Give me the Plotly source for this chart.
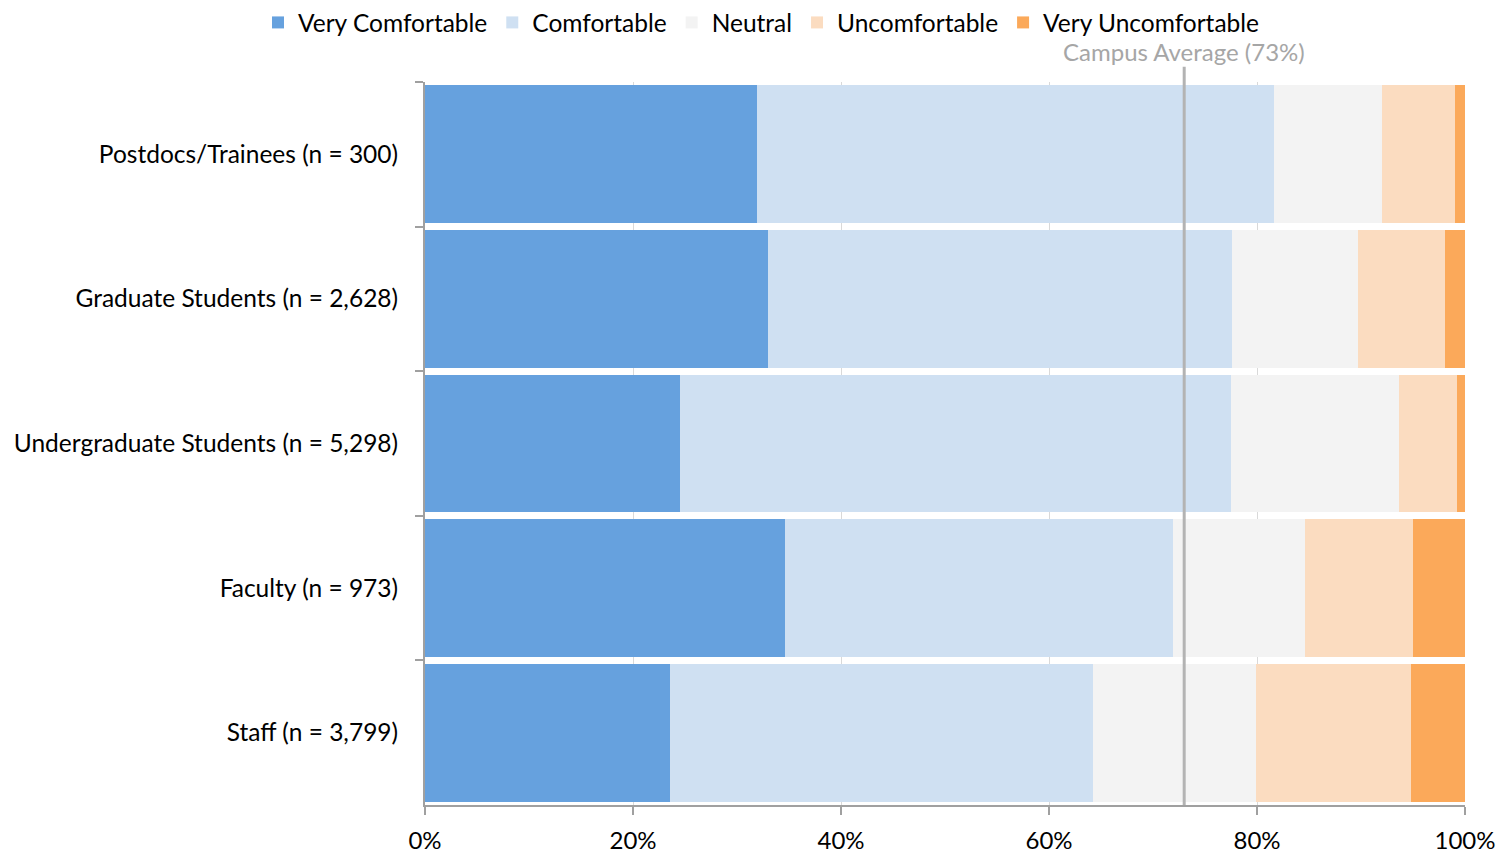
import plotly.graph_objects as go

# Respondent groups, top to bottom
groups = [
    "Postdocs/Trainees (n = 300)",
    "Graduate Students (n = 2,628)",
    "Undergraduate Students (n = 5,298)",
    "Faculty (n = 973)",
    "Staff (n = 3,799)",
]

# Share of respondents (%) per comfort level
very_comfortable = [31.9, 33.0, 24.5, 34.6, 23.6]
comfortable = [49.7, 44.6, 53.0, 37.3, 40.6]
neutral = [10.4, 12.1, 16.2, 12.7, 15.7]
uncomfortable = [7.0, 8.4, 5.5, 10.4, 14.9]
very_uncomfortable = [1.0, 1.9, 0.8, 5.0, 5.2]

campus_average = 73

series = [
    ("Very Comfortable", very_comfortable, "#66a1de"),
    ("Comfortable", comfortable, "#cfe0f2"),
    ("Neutral", neutral, "#f3f3f3"),
    ("Uncomfortable", uncomfortable, "#fbdcc0"),
    ("Very Uncomfortable", very_uncomfortable, "#fba95a"),
]

FONT = "Lato, 'Open Sans', sans-serif"

fig = go.Figure()
for name, vals, color in series:
    fig.add_trace(go.Bar(
        name=name, x=vals, y=groups, orientation="h",
        marker=dict(color=color, line=dict(width=0)),
        hoverinfo="x+y+name",
    ))

# Campus average reference line and label
fig.add_shape(
    type="line", xref="x", yref="paper",
    x0=campus_average, x1=campus_average, y0=0, y1=1.021,
    line=dict(color="#b3b3b3", width=3), layer="above",
)
fig.add_annotation(
    x=campus_average, xref="x", y=1.0415, yref="paper",
    text=f"Campus Average ({campus_average}%)", showarrow=False,
    font=dict(family=FONT, size=24, color="#a6a6a6"),
    xanchor="center", yanchor="middle",
)

fig.update_layout(
    barmode="stack",
    bargap=0.048,
    width=1502, height=854,
    margin=dict(l=425, r=37, t=82, b=49, autoexpand=False),
    paper_bgcolor="white", plot_bgcolor="white",
    font=dict(family=FONT, size=24, color="#000000"),
    legend=dict(
        orientation="h", x=0.507, xref="container", xanchor="center",
        y=1.0, yref="container", yanchor="top",
        font=dict(family=FONT, size=24.5, color="#000000"),
        itemwidth=30, traceorder="normal",
    ),
    xaxis=dict(
        range=[0, 100], tickvals=[0, 20, 40, 60, 80, 100],
        ticktext=["0%", "20%", "40%", "60%", "80%", "100%"],
        tickfont=dict(size=24),
        showgrid=True, gridcolor="#d9d9d9", gridwidth=1,
        showline=True, linecolor="#a0a0a0", linewidth=2,
        ticks="outside", ticklen=8, tickcolor="#a0a0a0", tickwidth=2,
        zeroline=False, fixedrange=True, automargin=False,
        ticklabelstandoff=5,
    ),
    yaxis=dict(
        categoryorder="array", categoryarray=groups, autorange="reversed",
        tickfont=dict(size=24.5),
        showline=True, linecolor="#a0a0a0", linewidth=2,
        ticks="outside", ticklen=8, tickcolor="#a0a0a0", tickwidth=2,
        tickson="boundaries", showgrid=False, fixedrange=True,
        automargin=False, ticklabelstandoff=20,
    ),
)

fig.write_html("out.html")
